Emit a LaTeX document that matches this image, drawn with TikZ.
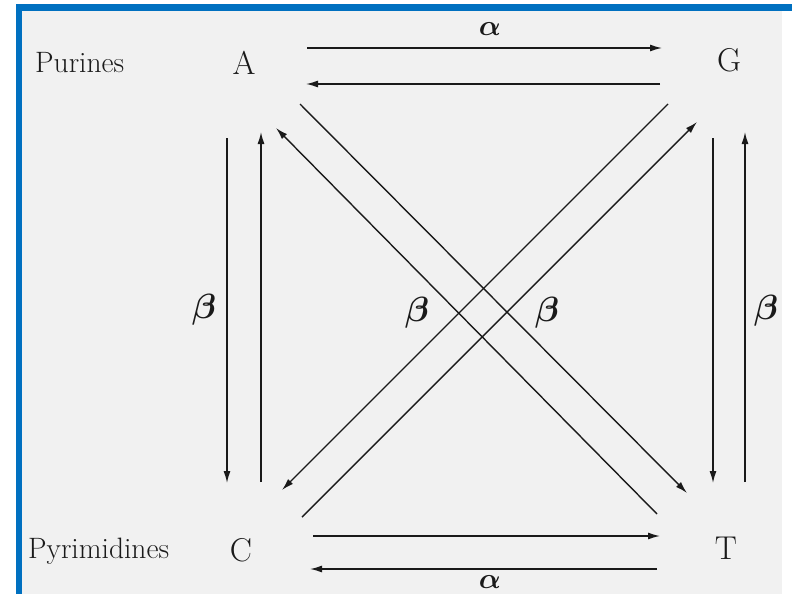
\RequirePackage{fix-cm}
\documentclass[tikz,border=0pt]{standalone}
\usepackage{amsmath}
\usetikzlibrary{arrows.meta}
\definecolor{bgray}{HTML}{F1F1F1}
\definecolor{bblue}{HTML}{0070C0}
\definecolor{ink}{HTML}{1A1A1A}
\begin{document}
\begin{tikzpicture}[x=1pt,y=-1pt,
  conn/.style={draw=ink,line width=1.4pt},
  arr/.style={conn,-{Latex[length=12pt,width=7pt]}},
  base/.style={inner sep=0pt,text=ink,font=\fontsize{33}{35}\selectfont},
  word/.style={inner sep=0pt,text=ink,font=\fontsize{29.5}{31}\selectfont},
  greek/.style={inner sep=0pt,text=ink,font=\fontsize{35}{37}\selectfont},
  alph/.style={inner sep=0pt,text=ink,font=\fontsize{29}{31}\selectfont}]
\clip (0,0) rectangle (792,594);
% background and frame
\fill[white] (0,0) rectangle (792,594);
\fill[bgray] (22,11) rectangle (782,594);
\fill[bblue] (16,4) rectangle (792,11);
\fill[bblue] (16,4) rectangle (22,594);
% labels
\node[word,anchor=base west] (pur) at (35,73) {Purines};
\node[word,anchor=base west] (pyr) at (28,558) {Pyrimidines};
\node[base] (A) at (244,63) {A};
\node[base] (G) at (729,60) {G};
\node[base] (C) at (241,550) {C};
\node[base] (T) at (726,548) {T};
% endpoints
\coordinate (ag1) at (307,48);  \coordinate (ag2) at (662,48);
\coordinate (ga1) at (660,84);  \coordinate (ga2) at (306,84);
\coordinate (ct1) at (313,536); \coordinate (ct2) at (660,536);
\coordinate (tc1) at (657,569); \coordinate (tc2) at (310,569);
\coordinate (ac1) at (227,138); \coordinate (ac2) at (227,483);
\coordinate (ca1) at (261,482); \coordinate (ca2) at (261,132);
\coordinate (gt1) at (713,138); \coordinate (gt2) at (713,483);
\coordinate (tg1) at (745,482); \coordinate (tg2) at (745,132);
\coordinate (at1) at (300,104); \coordinate (at2) at (687,493);
\coordinate (ta1) at (657,514); \coordinate (ta2) at (276,128);
\coordinate (gc1) at (668,104); \coordinate (gc2) at (282,490);
\coordinate (cg1) at (302,517); \coordinate (cg2) at (697,122);
% connectors
\draw[arr] (ag1) -- (ag2);
\draw[arr] (ga1) -- (ga2);
\draw[arr] (ct1) -- (ct2);
\draw[arr] (tc1) -- (tc2);
\draw[arr] (ac1) -- (ac2);
\draw[arr] (ca1) -- (ca2);
\draw[arr] (gt1) -- (gt2);
\draw[arr] (tg1) -- (tg2);
\draw[arr] (at1) -- (at2);
\draw[arr] (ta1) -- (ta2);
\draw[arr] (gc1) -- (gc2);
\draw[arr] (cg1) -- (cg2);
% rate labels
\node[alph] (al1) at (490,29) {$\boldsymbol{\alpha}$};
\node[alph] (al2) at (490,582) {$\boldsymbol{\alpha}$};
\node[greek] (b1) at (204,310) {$\boldsymbol{\beta}$};
\node[greek] (b2) at (417,313) {$\boldsymbol{\beta}$};
\node[greek] (b3) at (547,313) {$\boldsymbol{\beta}$};
\node[greek] (b4) at (766,311) {$\boldsymbol{\beta}$};
\end{tikzpicture}
\end{document}
